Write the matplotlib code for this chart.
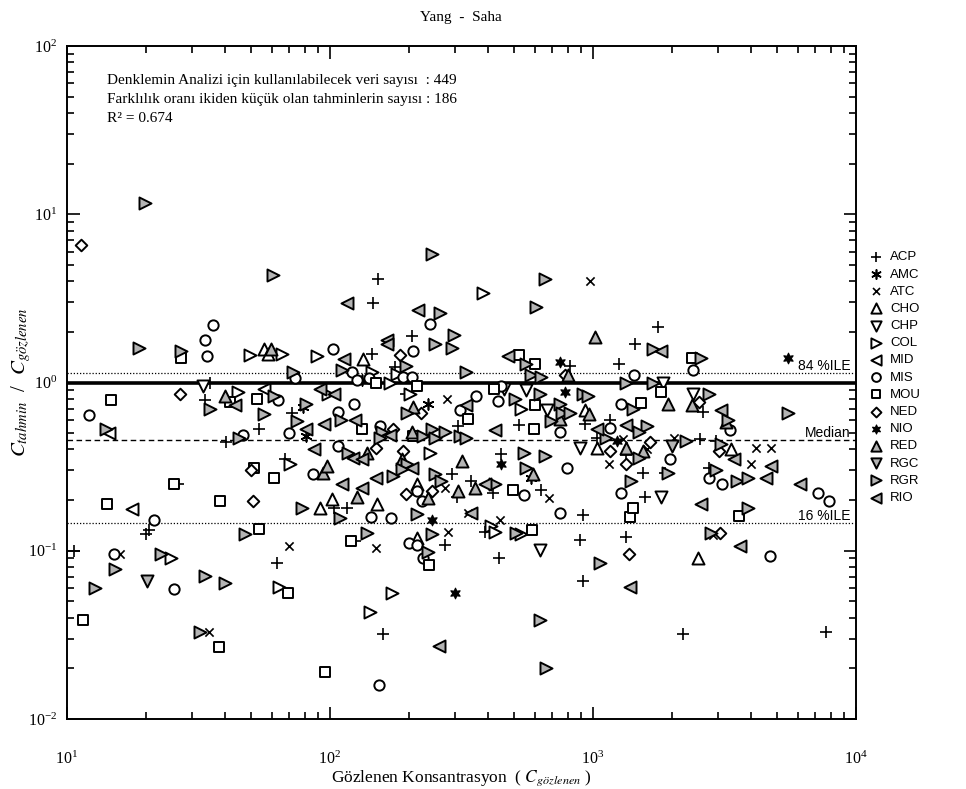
import numpy as np
import matplotlib
matplotlib.use('Agg')
import matplotlib.pyplot as plt
from matplotlib.ticker import LogLocator, LogFormatterSciNotation, NullFormatter

plt.rcParams['font.family'] = ['Liberation Serif', 'DejaVu Serif']
plt.rcParams['mathtext.fontset'] = 'stix'

# observed concentration (x) and predicted/observed ratio (y) per station
ACP_x = [146, 152, 205, 1766, 35, 33.5, 53.6, 40.2, 26.4, 20, 20.5, 10.6, 144, 177, 72, 194, 308, 67.5,
         104, 116, 290, 305, 124, 274, 63, 159, 388, 440, 915, 893, 915, 1330, 2200, 7700, 820, 1260,
         525, 930, 1160, 1040, 1330, 445, 1550, 1570, 633, 345, 415, 2620, 2560, 2940, 1880, 2770, 1450]
ACP_y = [2.97, 4.1, 1.9, 2.14, 1.0, 0.79, 0.53, 0.44, 0.25, 0.126, 0.132, 0.10, 1.48, 1.24, 0.66, 0.86,
         0.55, 0.35, 0.18, 0.18, 0.285, 0.21, 0.115, 0.108, 0.084, 0.032, 0.13, 0.091, 0.164, 0.116, 0.066,
         0.12, 0.032, 0.033, 1.26, 1.28, 0.56, 0.57, 0.60, 0.47, 0.37, 0.375, 0.29, 0.21, 0.23, 0.26, 0.22,
         0.67, 0.46, 0.45, 0.29, 0.31, 1.7]
AMC_x = [132, 79, 81, 236, 580]
AMC_y = [1.03, 0.72, 0.48, 0.75, 0.27]
ATC_x = [975, 15.9, 34.6, 278, 274, 280, 70, 150, 442, 2850, 1300, 1150, 680, 2040, 4170, 4760, 3980, 335, 1600]
ATC_y = [4.0, 0.096, 0.033, 0.80, 0.236, 0.13, 0.107, 0.104, 0.152, 0.124, 0.46, 0.33, 0.206, 0.47, 0.41,
         0.41, 0.33, 0.168, 0.40]
CHO_x = [56, 58, 133, 102, 151, 215, 92, 215, 930, 1040, 3350, 2500]
CHO_y = [1.59, 1.48, 1.37, 0.203, 0.19, 0.25, 0.18, 0.119, 0.69, 0.41, 0.40, 0.090]
CHP_x = [33, 460, 556, 670, 890, 628, 1850, 2400, 1820]
CHP_y = [0.95, 0.91, 0.90, 0.69, 0.41, 0.101, 1.0, 0.85, 0.21]
COL_x = [382, 49.6, 44.6, 65.8, 89, 144, 180, 169, 98, 70.5, 240, 24.8, 64, 172, 142, 410, 425, 532, 532, 202]
COL_y = [3.4, 1.46, 0.88, 1.48, 1.44, 1.15, 1.13, 0.99, 0.86, 0.33, 0.38, 0.090, 0.061, 0.056, 0.043,
         0.141, 0.13, 0.126, 0.70, 0.85]
MID_x = [17.7, 56, 14.5]
MID_y = [0.177, 0.91, 0.50]
MIS_x = [36, 33.5, 240, 34, 12.1, 46.6, 21.4, 15.1, 25.5, 103, 207, 73.5, 121, 127, 141, 190, 205, 63.3,
         123, 107, 70, 155, 312, 107, 86, 215, 223, 143, 170, 200, 215, 225, 153, 750, 4720, 1430, 445,
         358, 435, 750, 1160, 1280, 795, 1280, 545, 2400, 3330, 1960, 2760, 3100, 7200, 7900]
MIS_y = [2.2, 1.8, 2.23, 1.44, 0.64, 0.49, 0.152, 0.096, 0.059, 1.59, 1.53, 1.06, 1.15, 1.04, 1.06, 1.08,
         1.08, 0.79, 0.75, 0.67, 0.50, 0.55, 0.69, 0.42, 0.285, 0.226, 0.197, 0.159, 0.157, 0.111, 0.108,
         0.091, 0.0159, 0.168, 0.093, 1.11, 0.95, 0.83, 0.78, 0.51, 0.54, 0.75, 0.31, 0.22, 0.215, 1.19,
         0.52, 0.35, 0.27, 0.25, 0.22, 0.197]
MOU_x = [27.1, 14.7, 41.5, 52.7, 51.4, 25.5, 14.2, 38.2, 53.6, 11.5, 37.8, 150, 214, 132, 207, 61, 120,
         238, 69, 95.5, 585, 1380, 521, 600, 422, 600, 595, 1520, 335, 1420, 497, 2380, 1820, 3600]
MOU_y = [1.39, 0.79, 0.77, 0.80, 0.31, 0.25, 0.19, 0.197, 0.135, 0.0385, 0.0267, 0.99, 0.95, 0.53, 0.48,
         0.27, 0.115, 0.082, 0.056, 0.019, 0.133, 0.159, 1.46, 1.28, 0.92, 0.74, 0.53, 0.76, 0.61, 0.18,
         0.23, 1.40, 0.88, 0.16]
NED_x = [11.3, 27, 50, 51, 185, 174, 221, 150, 190, 195, 244, 780, 1160, 1330, 1650, 2530, 3020, 1370, 3050]
NED_y = [6.6, 0.85, 0.30, 0.197, 1.46, 0.53, 0.66, 0.41, 0.39, 0.218, 0.226, 1.11, 0.39, 0.33, 0.44, 0.77,
         0.39, 0.096, 0.128]
NIO_x = [244, 298, 750, 780, 1230, 445, 5500]
NIO_y = [0.152, 0.056, 1.33, 0.88, 0.45, 0.33, 1.39]
RED_x = [1020, 40, 59.5, 207, 205, 138, 188, 94, 97, 127, 236, 308, 318, 800, 750, 965, 1330, 1550, 590,
         355, 1920, 2380, 3200]
RED_y = [1.87, 0.83, 1.59, 0.72, 0.51, 0.38, 0.35, 0.29, 0.32, 0.21, 0.206, 0.226, 0.34, 1.11, 0.61,
         0.65, 0.41, 0.39, 0.285, 0.235, 0.75, 0.74, 0.58]
RGC_x = [20.2, 2000]
RGC_y = [0.066, 0.42]
RGR_x = [19.8, 60.7, 244, 262, 295, 656, 608, 18.8, 27.1, 35, 56, 14.1, 45, 22.7, 15.2, 12.8, 33.5, 40,
         47.5, 32, 251, 290, 72.5, 111, 194, 61, 81, 110, 75, 157, 155, 197, 225, 244, 274, 251, 312,
         117, 197, 174, 188, 251, 265, 78, 109, 214, 244, 138, 236, 510, 1060, 628, 660, 2800, 556, 580,
         633, 1330, 1690, 330, 505, 628, 750, 760, 820, 690, 915, 960, 1420, 1610, 1500, 330, 1120,
         1500, 545, 655, 556, 1400, 425, 2570, 2750, 3270, 5500, 2250, 3080, 1930, 2940, 3520, 3900,
         3900, 1690]
RGR_y = [11.6, 4.35, 5.8, 2.6, 1.92, 4.1, 2.8, 1.61, 1.53, 0.70, 0.65, 0.53, 0.47, 0.096, 0.078, 0.060,
         0.071, 0.064, 0.126, 0.033, 1.70, 1.61, 1.16, 1.19, 1.26, 0.83, 0.75, 0.60, 0.59, 0.51, 0.47,
         0.66, 0.48, 0.53, 0.51, 0.47, 0.48, 0.38, 0.33, 0.278, 0.305, 0.285, 0.26, 0.18, 0.157, 0.165,
         0.126, 0.128, 0.098, 0.128, 0.085, 0.039, 0.020, 0.128, 1.28, 1.11, 1.08, 1.0, 0.99, 1.15, 0.80,
         0.85, 0.75, 0.66, 0.66, 0.59, 0.86, 0.83, 0.70, 0.55, 0.51, 0.47, 0.47, 0.355, 0.38, 0.365,
         0.31, 0.26, 0.25, 1.39, 0.85, 0.60, 0.66, 0.45, 0.43, 0.29, 0.30, 0.26, 0.27, 0.18, 1.59]
RIO_x = [116, 216, 165, 113, 164, 92, 104, 124, 95, 81, 169, 87, 122, 132, 205, 111, 132, 150, 43.5,
         260, 1380, 3620, 474, 330, 425, 1040, 1340, 390, 1820, 3080, 3450, 4760, 4550, 6150, 2570, 345]
RIO_y = [2.97, 2.7, 1.8, 1.37, 1.70, 0.91, 0.86, 0.60, 0.57, 0.53, 0.49, 0.40, 0.355, 0.35, 0.31, 0.25,
         0.236, 0.27, 0.73, 0.027, 0.061, 0.106, 1.44, 0.74, 0.52, 0.53, 0.56, 0.25, 1.53, 0.69, 0.35,
         0.32, 0.27, 0.25, 0.19, 0.168]

# reference lines
p84 = 1.135
median = 0.454
p16 = 0.147

stations = ['ACP', 'AMC', 'ATC', 'CHO', 'CHP', 'COL', 'MID', 'MIS', 'MOU', 'NED', 'NIO',
            'RED', 'RGC', 'RGR', 'RIO']
data = {'ACP': (ACP_x, ACP_y), 'AMC': (AMC_x, AMC_y), 'ATC': (ATC_x, ATC_y), 'CHO': (CHO_x, CHO_y),
        'CHP': (CHP_x, CHP_y), 'COL': (COL_x, COL_y), 'MID': (MID_x, MID_y), 'MIS': (MIS_x, MIS_y),
        'MOU': (MOU_x, MOU_y), 'NED': (NED_x, NED_y), 'NIO': (NIO_x, NIO_y), 'RED': (RED_x, RED_y),
        'RGC': (RGC_x, RGC_y), 'RGR': (RGR_x, RGR_y), 'RIO': (RIO_x, RIO_y)}

gray = '#b4b4b4'
styles = {
    'ACP': dict(marker='+', s=70, c='k', lw=1.2),
    'AMC': dict(marker=(6, 2, 0), s=60, c='k', lw=1.2),
    'ATC': dict(marker='x', s=35, c='k', lw=1.2),
    'CHO': dict(marker='^', s=75, facecolor='white', edgecolor='k', lw=1.4),
    'CHP': dict(marker='v', s=75, facecolor='white', edgecolor='k', lw=1.4),
    'COL': dict(marker='>', s=75, facecolor='white', edgecolor='k', lw=1.4),
    'MID': dict(marker='<', s=75, facecolor='white', edgecolor='k', lw=1.4),
    'MIS': dict(marker='o', s=55, facecolor='white', edgecolor='k', lw=1.4),
    'MOU': dict(marker='s', s=45, facecolor='white', edgecolor='k', lw=1.4),
    'NED': dict(marker='D', s=35, facecolor='white', edgecolor='k', lw=1.4),
    'NIO': dict(marker=(6, 1, 0), s=60, facecolor='k', edgecolor='k', lw=0.8),
    'RED': dict(marker='^', s=75, facecolor=gray, edgecolor='k', lw=1.4),
    'RGC': dict(marker='v', s=75, facecolor=gray, edgecolor='k', lw=1.4),
    'RGR': dict(marker='>', s=75, facecolor=gray, edgecolor='k', lw=1.4),
    'RIO': dict(marker='<', s=75, facecolor=gray, edgecolor='k', lw=1.4),
}

fig = plt.figure(figsize=(9.66, 7.89), dpi=100)
ax = fig.add_axes([67 / 966, 70 / 789, 789 / 966, 673 / 789])

ax.axhline(1.0, color='k', lw=2.6, zorder=1)
ax.axhline(p84, color='k', lw=0.9, ls=(0, (1, 1.5)), zorder=1)
ax.axhline(median, color='k', lw=1.0, ls=(0, (4, 2.5)), zorder=1)
ax.axhline(p16, color='k', lw=0.9, ls=(0, (1, 1.5)), zorder=1)

for name in stations:
    x, y = data[name]
    ax.scatter(x, y, label=name, zorder=3, **styles[name])

ax.set_xscale('log')
ax.set_yscale('log')
ax.set_xlim(10, 1e4)
ax.set_ylim(1e-2, 1e2)

for axis in (ax.xaxis, ax.yaxis):
    axis.set_major_locator(LogLocator(base=10, numticks=10))
    axis.set_minor_locator(LogLocator(base=10, subs=np.arange(2, 10), numticks=10))
    axis.set_major_formatter(LogFormatterSciNotation())
    axis.set_minor_formatter(NullFormatter())
ax.tick_params(which='both', direction='in', top=True, right=True, width=1.2)
ax.tick_params(which='major', length=9, labelsize=11.5, pad=7)
ax.tick_params(axis='x', which='major', pad=23)
ax.tick_params(which='minor', length=5)
for sp in ax.spines.values():
    sp.set_linewidth(1.4)

sans = ['Liberation Sans', 'DejaVu Sans']
ax.text(0.993, p84, '84 %ILE', transform=ax.get_yaxis_transform(), ha='right', va='bottom',
        family=sans, fontsize=10)
ax.text(0.993, median, 'Median', transform=ax.get_yaxis_transform(), ha='right', va='bottom',
        family=sans, fontsize=10)
ax.text(0.993, p16, '16 %ILE', transform=ax.get_yaxis_transform(), ha='right', va='bottom',
        family=sans, fontsize=10)

# summary block, one line per statistic
summary = ['Denklemin Analizi için kullanılabilecek veri sayısı  : 449',
           'Farklılık oranı ikiden küçük olan tahminlerin sayısı : 186',
           'R² = 0.674']
for i, line in enumerate(summary):
    ax.text(0.051, 0.9585 - i * 0.0283, line, transform=ax.transAxes, ha='left', va='top', fontsize=11)

fig.text(461 / 966, 1 - 17 / 789, 'Yang  -  Saha', ha='center', va='center', fontsize=11)
ax.set_xlabel('Gözlenen Konsantrasyon  ( $C_{gözlenen}$ )', fontsize=12.5, labelpad=0)
ax.set_ylabel('$C_{tahmin}$  /  $C_{gözlenen}$', fontsize=15, labelpad=-4)

ax.legend(loc='upper left', bbox_to_anchor=(1.008, 0.703), frameon=False, prop={'family': sans, 'size': 9.5},
          labelspacing=0.375, handletextpad=0.5, borderaxespad=0, handlelength=1.2, scatterpoints=1,
          markerscale=0.85)

fig.savefig('out.png', dpi=100)
